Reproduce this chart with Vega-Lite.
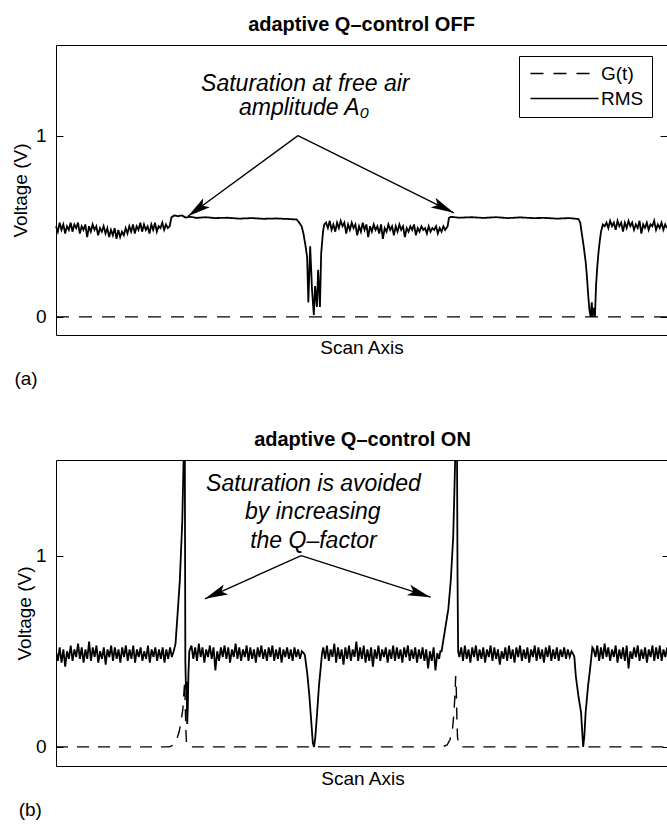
{
  "$schema": "https://vega.github.io/schema/vega-lite/v6.json",
  "background": "white",
  "padding": {"left": 10, "top": 14, "right": 0, "bottom": 5},
  "spacing": 40,
  "align": "none",
  "config": {
    "font": "Liberation Sans",
    "view": {"stroke": "black", "strokeWidth": 1},
    "axis": {"grid": false, "domain": false, "labelFont": "Liberation Sans", "titleFont": "Liberation Sans", "labelFontSize": 19, "titleFontSize": 19, "titleFontWeight": "normal", "labelColor": "black", "titleColor": "black", "tickColor": "black", "tickWidth": 1},
    "title": {"font": "Liberation Sans", "fontSize": 20, "fontWeight": "bold", "color": "black", "offset": 10},
    "text": {"font": "Liberation Sans", "color": "black"}
  },
  "datasets": {
    "topG": [{"x": 0, "v": 0}, {"x": 1000, "v": 0}],
    "topRMS": [
      {"x":0,"v":0.50},{"x":3,"v":0.47},{"x":6,"v":0.52},{"x":9,"v":0.48},{"x":12,"v":0.51},{"x":15,"v":0.46},{"x":18,"v":0.50},{"x":21,"v":0.48},{"x":24,"v":0.52},{"x":27,"v":0.47},{"x":30,"v":0.51},{"x":33,"v":0.49},{"x":36,"v":0.52},{"x":39,"v":0.46},{"x":42,"v":0.50},{"x":45,"v":0.48},{"x":48,"v":0.51},{"x":51,"v":0.44},{"x":54,"v":0.50},{"x":57,"v":0.47},{"x":60,"v":0.51},{"x":63,"v":0.48},{"x":66,"v":0.50},{"x":69,"v":0.45},{"x":72,"v":0.49},{"x":75,"v":0.47},{"x":78,"v":0.50},{"x":81,"v":0.46},{"x":84,"v":0.49},{"x":87,"v":0.44},{"x":90,"v":0.48},{"x":93,"v":0.45},{"x":96,"v":0.49},{"x":99,"v":0.43},{"x":102,"v":0.48},{"x":105,"v":0.44},{"x":108,"v":0.47},{"x":111,"v":0.45},{"x":114,"v":0.49},{"x":117,"v":0.46},{"x":120,"v":0.50},{"x":123,"v":0.47},{"x":126,"v":0.51},{"x":129,"v":0.46},{"x":132,"v":0.50},{"x":135,"v":0.48},{"x":138,"v":0.52},{"x":141,"v":0.47},{"x":144,"v":0.51},{"x":147,"v":0.48},{"x":150,"v":0.50},{"x":153,"v":0.46},{"x":156,"v":0.51},{"x":159,"v":0.48},{"x":162,"v":0.52},{"x":165,"v":0.47},{"x":168,"v":0.50},{"x":171,"v":0.49},{"x":174,"v":0.52},{"x":177,"v":0.48},{"x":180,"v":0.51},{"x":183,"v":0.49},{"x":186,"v":0.50},
      {"x":189,"v":0.55},{"x":194,"v":0.56},{"x":200,"v":0.555},{"x":206,"v":0.56},{"x":212,"v":0.548},{"x":220,"v":0.552},{"x":230,"v":0.546},{"x":245,"v":0.55},{"x":260,"v":0.545},{"x":280,"v":0.547},{"x":300,"v":0.542},{"x":320,"v":0.545},{"x":340,"v":0.541},{"x":360,"v":0.543},{"x":380,"v":0.54},{"x":394,"v":0.537},
      {"x":398,"v":0.52},{"x":402,"v":0.50},{"x":405,"v":0.46},{"x":408,"v":0.40},{"x":411,"v":0.33},{"x":413,"v":0.08},{"x":416,"v":0.39},{"x":419,"v":0.15},{"x":422,"v":0.01},{"x":424,"v":0.17},{"x":427,"v":0.055},{"x":429,"v":0.26},{"x":432,"v":0.055},{"x":434,"v":0.35},{"x":437,"v":0.47},{"x":439,"v":0.51},
      {"x":442,"v":0.52},{"x":445,"v":0.49},{"x":448,"v":0.53},{"x":451,"v":0.48},{"x":454,"v":0.51},{"x":457,"v":0.47},{"x":460,"v":0.52},{"x":463,"v":0.49},{"x":466,"v":0.53},{"x":469,"v":0.50},{"x":472,"v":0.52},{"x":475,"v":0.46},{"x":478,"v":0.51},{"x":481,"v":0.48},{"x":484,"v":0.52},{"x":487,"v":0.49},{"x":490,"v":0.51},{"x":493,"v":0.45},{"x":496,"v":0.50},{"x":499,"v":0.47},{"x":502,"v":0.52},{"x":505,"v":0.48},{"x":508,"v":0.51},{"x":511,"v":0.44},{"x":514,"v":0.50},{"x":517,"v":0.47},{"x":520,"v":0.51},{"x":523,"v":0.48},{"x":526,"v":0.50},{"x":529,"v":0.46},{"x":532,"v":0.51},{"x":535,"v":0.43},{"x":538,"v":0.49},{"x":541,"v":0.47},{"x":544,"v":0.51},{"x":547,"v":0.48},{"x":550,"v":0.50},{"x":553,"v":0.45},{"x":556,"v":0.50},{"x":559,"v":0.47},{"x":562,"v":0.51},{"x":565,"v":0.48},{"x":568,"v":0.50},{"x":571,"v":0.44},{"x":574,"v":0.49},{"x":577,"v":0.47},{"x":580,"v":0.50},{"x":583,"v":0.48},{"x":586,"v":0.51},{"x":589,"v":0.45},{"x":592,"v":0.49},{"x":595,"v":0.47},{"x":598,"v":0.50},{"x":601,"v":0.48},{"x":604,"v":0.49},{"x":607,"v":0.46},{"x":610,"v":0.50},{"x":613,"v":0.47},{"x":616,"v":0.49},{"x":619,"v":0.48},{"x":622,"v":0.50},{"x":625,"v":0.46},{"x":628,"v":0.49},{"x":631,"v":0.47},{"x":634,"v":0.50},{"x":637,"v":0.48},
      {"x":641,"v":0.50},{"x":643,"v":0.545},{"x":646,"v":0.552},{"x":660,"v":0.547},{"x":680,"v":0.55},{"x":700,"v":0.546},{"x":720,"v":0.55},{"x":740,"v":0.545},{"x":760,"v":0.549},{"x":780,"v":0.545},{"x":800,"v":0.546},{"x":820,"v":0.542},{"x":840,"v":0.545},{"x":855,"v":0.54},
      {"x":858,"v":0.52},{"x":861,"v":0.45},{"x":864,"v":0.38},{"x":867,"v":0.30},{"x":869,"v":0.22},{"x":871,"v":0.12},{"x":873,"v":0.04},{"x":875,"v":0},{"x":877,"v":0.08},{"x":878,"v":0},{"x":880,"v":0.05},{"x":882,"v":0},{"x":884,"v":0.18},{"x":886,"v":0.28},{"x":888,"v":0.36},{"x":890,"v":0.42},{"x":892,"v":0.47},{"x":895,"v":0.51},
      {"x":898,"v":0.50},{"x":901,"v":0.52},{"x":904,"v":0.49},{"x":907,"v":0.53},{"x":910,"v":0.50},{"x":913,"v":0.52},{"x":916,"v":0.48},{"x":919,"v":0.53},{"x":922,"v":0.50},{"x":925,"v":0.52},{"x":928,"v":0.47},{"x":931,"v":0.52},{"x":934,"v":0.49},{"x":937,"v":0.53},{"x":940,"v":0.50},{"x":943,"v":0.52},{"x":946,"v":0.48},{"x":949,"v":0.51},{"x":952,"v":0.49},{"x":955,"v":0.53},{"x":958,"v":0.46},{"x":961,"v":0.51},{"x":964,"v":0.49},{"x":967,"v":0.52},{"x":970,"v":0.48},{"x":973,"v":0.51},{"x":976,"v":0.50},{"x":979,"v":0.53},{"x":982,"v":0.48},{"x":985,"v":0.51},{"x":988,"v":0.49},{"x":991,"v":0.52},{"x":994,"v":0.48},{"x":997,"v":0.51},{"x":1000,"v":0.49}
    ],
    "botG": [
      {"x":0,"v":0},{"x":185,"v":0},{"x":192,"v":0.01},{"x":197,"v":0.04},{"x":201,"v":0.08},{"x":204,"v":0.13},{"x":207,"v":0.2},{"x":209,"v":0.3},{"x":210,"v":0.34},{"x":211,"v":0.2},{"x":212,"v":0.08},{"x":213,"v":0.01},{"x":216,"v":0},{"x":630,"v":0},{"x":638,"v":0.01},{"x":643,"v":0.04},{"x":647,"v":0.1},{"x":649,"v":0.17},{"x":651,"v":0.28},{"x":652,"v":0.37},{"x":653,"v":0.3},{"x":654,"v":0.15},{"x":655,"v":0.05},{"x":657,"v":0.01},{"x":660,"v":0},{"x":1000,"v":0}
    ],
    "botRMS": [
      {"x":0,"v":0.50},{"x":3,"v":0.45},{"x":6,"v":0.52},{"x":9,"v":0.44},{"x":12,"v":0.51},{"x":15,"v":0.42},{"x":18,"v":0.50},{"x":21,"v":0.46},{"x":24,"v":0.53},{"x":27,"v":0.45},{"x":30,"v":0.51},{"x":33,"v":0.47},{"x":36,"v":0.54},{"x":39,"v":0.46},{"x":42,"v":0.52},{"x":45,"v":0.44},{"x":48,"v":0.51},{"x":51,"v":0.46},{"x":54,"v":0.55},{"x":57,"v":0.45},{"x":60,"v":0.52},{"x":63,"v":0.47},{"x":66,"v":0.53},{"x":69,"v":0.44},{"x":72,"v":0.50},{"x":75,"v":0.46},{"x":78,"v":0.52},{"x":81,"v":0.43},{"x":84,"v":0.51},{"x":87,"v":0.47},{"x":90,"v":0.53},{"x":93,"v":0.45},{"x":96,"v":0.52},{"x":99,"v":0.46},{"x":102,"v":0.51},{"x":105,"v":0.44},{"x":108,"v":0.52},{"x":111,"v":0.47},{"x":114,"v":0.53},{"x":117,"v":0.45},{"x":120,"v":0.51},{"x":123,"v":0.46},{"x":126,"v":0.53},{"x":129,"v":0.44},{"x":132,"v":0.51},{"x":135,"v":0.47},{"x":138,"v":0.52},{"x":141,"v":0.45},{"x":144,"v":0.50},{"x":147,"v":0.46},{"x":150,"v":0.53},{"x":153,"v":0.44},{"x":156,"v":0.51},{"x":159,"v":0.47},{"x":162,"v":0.52},{"x":165,"v":0.45},{"x":168,"v":0.51},{"x":171,"v":0.46},{"x":174,"v":0.52},{"x":177,"v":0.44},{"x":180,"v":0.51},{"x":183,"v":0.46},{"x":186,"v":0.52},{"x":189,"v":0.47},
      {"x":192,"v":0.50},{"x":195,"v":0.54},{"x":198,"v":0.68},{"x":202,"v":0.87},{"x":206,"v":1.18},{"x":208,"v":1.48},{"x":209,"v":1.7},{"x":210,"v":1.7},{"x":211,"v":0.45},{"x":212,"v":0.30},{"x":213,"v":0.34},{"x":214,"v":0.12},{"x":215,"v":0.2},{"x":216,"v":0.38},{"x":217.5,"v":0.50},
      {"x":221,"v":0.53},{"x":224,"v":0.46},{"x":227,"v":0.52},{"x":230,"v":0.45},{"x":233,"v":0.54},{"x":236,"v":0.47},{"x":239,"v":0.52},{"x":242,"v":0.44},{"x":245,"v":0.51},{"x":248,"v":0.47},{"x":251,"v":0.53},{"x":254,"v":0.46},{"x":257,"v":0.52},{"x":260,"v":0.40},{"x":263,"v":0.50},{"x":266,"v":0.45},{"x":269,"v":0.52},{"x":272,"v":0.47},{"x":275,"v":0.53},{"x":278,"v":0.46},{"x":281,"v":0.52},{"x":284,"v":0.44},{"x":287,"v":0.51},{"x":290,"v":0.47},{"x":293,"v":0.54},{"x":296,"v":0.46},{"x":299,"v":0.52},{"x":302,"v":0.45},{"x":305,"v":0.51},{"x":308,"v":0.47},{"x":311,"v":0.53},{"x":314,"v":0.45},{"x":317,"v":0.52},{"x":320,"v":0.46},{"x":323,"v":0.51},{"x":326,"v":0.44},{"x":329,"v":0.52},{"x":332,"v":0.47},{"x":335,"v":0.53},{"x":338,"v":0.46},{"x":341,"v":0.51},{"x":344,"v":0.45},{"x":347,"v":0.52},{"x":350,"v":0.47},{"x":353,"v":0.53},{"x":356,"v":0.45},{"x":359,"v":0.51},{"x":362,"v":0.46},{"x":365,"v":0.52},{"x":368,"v":0.44},{"x":371,"v":0.51},{"x":374,"v":0.47},{"x":377,"v":0.52},{"x":380,"v":0.46},{"x":383,"v":0.51},{"x":386,"v":0.45},{"x":389,"v":0.52},{"x":392,"v":0.47},{"x":395,"v":0.51},{"x":398,"v":0.46},{"x":401,"v":0.50},{"x":404,"v":0.49},
      {"x":406,"v":0.48},{"x":410,"v":0.38},{"x":413,"v":0.28},{"x":416,"v":0.15},{"x":419,"v":0.02},{"x":421,"v":0},{"x":423,"v":0.05},{"x":426,"v":0.18},{"x":429,"v":0.32},{"x":432,"v":0.42},{"x":434,"v":0.49},
      {"x":436,"v":0.52},{"x":439,"v":0.46},{"x":442,"v":0.53},{"x":445,"v":0.45},{"x":448,"v":0.51},{"x":451,"v":0.47},{"x":454,"v":0.54},{"x":457,"v":0.44},{"x":460,"v":0.52},{"x":463,"v":0.46},{"x":466,"v":0.51},{"x":469,"v":0.43},{"x":472,"v":0.52},{"x":475,"v":0.46},{"x":478,"v":0.53},{"x":481,"v":0.45},{"x":484,"v":0.51},{"x":487,"v":0.47},{"x":490,"v":0.55},{"x":493,"v":0.45},{"x":496,"v":0.52},{"x":499,"v":0.46},{"x":502,"v":0.53},{"x":505,"v":0.44},{"x":508,"v":0.51},{"x":511,"v":0.45},{"x":514,"v":0.52},{"x":517,"v":0.42},{"x":520,"v":0.51},{"x":523,"v":0.46},{"x":526,"v":0.53},{"x":529,"v":0.45},{"x":532,"v":0.51},{"x":535,"v":0.47},{"x":538,"v":0.52},{"x":541,"v":0.44},{"x":544,"v":0.51},{"x":547,"v":0.46},{"x":550,"v":0.53},{"x":553,"v":0.45},{"x":556,"v":0.52},{"x":559,"v":0.46},{"x":562,"v":0.51},{"x":565,"v":0.44},{"x":568,"v":0.52},{"x":571,"v":0.47},{"x":574,"v":0.53},{"x":577,"v":0.45},{"x":580,"v":0.51},{"x":583,"v":0.46},{"x":586,"v":0.52},{"x":589,"v":0.44},{"x":592,"v":0.51},{"x":595,"v":0.46},{"x":598,"v":0.52},{"x":601,"v":0.45},{"x":604,"v":0.51},{"x":607,"v":0.41},{"x":610,"v":0.50},{"x":613,"v":0.45},{"x":616,"v":0.52},{"x":619,"v":0.40},{"x":622,"v":0.49},{"x":625,"v":0.46},{"x":627,"v":0.50},
      {"x":629,"v":0.50},{"x":634,"v":0.60},{"x":640,"v":0.72},{"x":644,"v":0.87},{"x":648,"v":1.1},{"x":650,"v":1.35},{"x":651,"v":1.48},{"x":652,"v":1.7},{"x":654,"v":1.7},{"x":655,"v":0.9},{"x":656,"v":0.5},
      {"x":658,"v":0.47},{"x":661,"v":0.52},{"x":664,"v":0.45},{"x":667,"v":0.53},{"x":670,"v":0.46},{"x":673,"v":0.51},{"x":676,"v":0.44},{"x":679,"v":0.52},{"x":682,"v":0.47},{"x":685,"v":0.53},{"x":688,"v":0.45},{"x":691,"v":0.51},{"x":694,"v":0.46},{"x":697,"v":0.52},{"x":700,"v":0.44},{"x":703,"v":0.51},{"x":706,"v":0.47},{"x":709,"v":0.53},{"x":712,"v":0.45},{"x":715,"v":0.52},{"x":718,"v":0.46},{"x":721,"v":0.51},{"x":724,"v":0.43},{"x":727,"v":0.50},{"x":730,"v":0.46},{"x":733,"v":0.52},{"x":736,"v":0.45},{"x":739,"v":0.53},{"x":742,"v":0.46},{"x":745,"v":0.51},{"x":748,"v":0.44},{"x":751,"v":0.52},{"x":754,"v":0.47},{"x":757,"v":0.53},{"x":760,"v":0.45},{"x":763,"v":0.51},{"x":766,"v":0.46},{"x":769,"v":0.52},{"x":772,"v":0.44},{"x":775,"v":0.51},{"x":778,"v":0.47},{"x":781,"v":0.53},{"x":784,"v":0.45},{"x":787,"v":0.52},{"x":790,"v":0.46},{"x":793,"v":0.51},{"x":796,"v":0.44},{"x":799,"v":0.52},{"x":802,"v":0.47},{"x":805,"v":0.53},{"x":808,"v":0.45},{"x":811,"v":0.51},{"x":814,"v":0.46},{"x":817,"v":0.52},{"x":820,"v":0.45},{"x":823,"v":0.51},{"x":826,"v":0.47},{"x":829,"v":0.52},{"x":832,"v":0.46},{"x":835,"v":0.51},{"x":838,"v":0.47},{"x":841,"v":0.50},{"x":843,"v":0.49},
      {"x":845.6,"v":0.47},{"x":848,"v":0.37},{"x":852,"v":0.27},{"x":856.5,"v":0.18},{"x":860,"v":0},{"x":862,"v":0.06},{"x":864,"v":0.18},{"x":868,"v":0.32},{"x":871,"v":0.40},{"x":875,"v":0.52},
      {"x":877,"v":0.51},{"x":880,"v":0.47},{"x":883,"v":0.53},{"x":886,"v":0.45},{"x":889,"v":0.52},{"x":892,"v":0.46},{"x":895,"v":0.54},{"x":898,"v":0.47},{"x":901,"v":0.52},{"x":904,"v":0.45},{"x":907,"v":0.51},{"x":910,"v":0.47},{"x":913,"v":0.53},{"x":916,"v":0.44},{"x":919,"v":0.51},{"x":922,"v":0.46},{"x":925,"v":0.52},{"x":928,"v":0.45},{"x":931,"v":0.53},{"x":934,"v":0.41},{"x":937,"v":0.50},{"x":940,"v":0.46},{"x":943,"v":0.52},{"x":946,"v":0.47},{"x":949,"v":0.53},{"x":952,"v":0.45},{"x":955,"v":0.51},{"x":958,"v":0.46},{"x":961,"v":0.52},{"x":964,"v":0.44},{"x":967,"v":0.51},{"x":970,"v":0.47},{"x":973,"v":0.53},{"x":976,"v":0.45},{"x":979,"v":0.52},{"x":982,"v":0.46},{"x":985,"v":0.53},{"x":988,"v":0.45},{"x":991,"v":0.51},{"x":994,"v":0.47},{"x":997,"v":0.52},{"x":1000,"v":0.48}
    ],
    "topText": [{"x": 408, "v": 1.285, "t": "Saturation at free air"}, {"x": 406, "v": 1.152, "t": "amplitude A₀"}],
    "botText": [{"x": 420, "v": 1.374, "t": "Saturation is avoided"}, {"x": 419, "v": 1.226, "t": "by increasing"}, {"x": 420, "v": 1.078, "t": "the Q–factor"}],
    "topArrows": [{"x": 396, "v": 1.0, "x2": 216, "v2": 0.555}, {"x": 396, "v": 1.0, "x2": 651, "v2": 0.574}],
    "botArrows": [{"x": 400, "v": 1.0, "x2": 243, "v2": 0.774}, {"x": 400, "v": 1.0, "x2": 611, "v2": 0.783}]
  },
  "vconcat": [
    {
      "title": {"text": "adaptive Q–control OFF"},
      "width": 611,
      "height": 290,
      "encoding": {
        "x": {"field": "x", "type": "quantitative", "scale": {"domain": [0, 1000], "nice": false, "zero": false}, "axis": {"labels": false, "ticks": false, "domain": false, "grid": false, "title": "Scan Axis", "titlePadding": 3}},
        "y": {"field": "v", "type": "quantitative", "scale": {"domain": [-0.1, 1.5], "nice": false, "zero": false}, "axis": null}
      },
      "layer": [
        {
          "data": {"name": "topG"},
          "mark": {"type": "line", "stroke": "black", "strokeWidth": 1.4},
          "encoding": {
            "y": {"field": "v", "type": "quantitative", "axis": {"orient": "left", "values": [0, 1], "format": "d", "tickSize": -7, "labelPadding": 17, "title": "Voltage (V)", "titlePadding": 5}},
            "strokeDash": {"datum": "G(t)", "type": "nominal", "scale": {"domain": ["G(t)", "RMS"], "range": [[13, 10], [1, 0]]},
              "legend": {"title": null, "orient": "none", "legendX": 463, "legendY": 11, "strokeColor": "black", "fillColor": "white", "padding": 8, "symbolType": "M-5.67,0L5.67,0", "symbolSize": 144, "symbolOffset": 28, "symbolStrokeWidth": 1.3, "symbolStrokeColor": "black", "labelFontSize": 19, "labelFont": "Liberation Sans", "labelColor": "black", "labelOffset": 27, "rowPadding": 5, "cornerRadius": 0}}
          }
        },
        {
          "data": {"name": "topRMS"},
          "mark": {"type": "line", "stroke": "black", "strokeWidth": 1.8},
          "encoding": {
            "y": {"field": "v", "type": "quantitative", "axis": {"orient": "right", "values": [0, 1], "labels": false, "tickSize": -7, "title": null}},
            "strokeDash": {"datum": "RMS", "type": "nominal"}
          }
        },
        {
          "data": {"name": "topArrows"},
          "mark": {"type": "rule", "color": "black", "strokeWidth": 1.3},
          "encoding": {"x2": {"field": "x2"}, "y2": {"field": "v2"}}
        },
        {
          "data": {"values": [{"x": 216, "v": 0.555}]},
          "mark": {"type": "point", "shape": "M0,0L-1,-0.24L-0.78,0L-1,0.24Z", "filled": true, "color": "black", "opacity": 1, "size": 2116, "angle": 143.8, "strokeWidth": 0}
        },
        {
          "data": {"values": [{"x": 651, "v": 0.574}]},
          "mark": {"type": "point", "shape": "M0,0L-1,-0.24L-0.78,0L-1,0.24Z", "filled": true, "color": "black", "opacity": 1, "size": 2116, "angle": 26.3, "strokeWidth": 0}
        },
        {
          "data": {"name": "topText"},
          "mark": {"type": "text", "fontStyle": "italic", "fontSize": 23, "align": "center", "baseline": "middle"},
          "encoding": {"text": {"field": "t"}}
        },
        {
          "data": {"values": [{"x": -49, "v": -0.34, "t": "(a)"}]},
          "mark": {"type": "text", "fontSize": 19, "align": "center", "baseline": "middle"},
          "encoding": {"text": {"field": "t"}}
        }
      ],
      "resolve": {"axis": {"y": "independent"}}
    },
    {
      "title": {"text": "adaptive Q–control ON"},
      "width": 613,
      "height": 306,
      "encoding": {
        "x": {"field": "x", "type": "quantitative", "scale": {"domain": [0, 1000], "nice": false, "zero": false}, "axis": {"labels": false, "ticks": false, "domain": false, "grid": false, "title": "Scan Axis", "titlePadding": 3}},
        "y": {"field": "v", "type": "quantitative", "scale": {"domain": [-0.1, 1.5], "nice": false, "zero": false}, "axis": null}
      },
      "layer": [
        {
          "data": {"name": "botG"},
          "mark": {"type": "line", "stroke": "black", "strokeWidth": 1.4, "strokeDash": [12, 9]},
          "encoding": {
            "y": {"field": "v", "type": "quantitative", "axis": {"orient": "left", "values": [0, 1], "format": "d", "tickSize": -7, "labelPadding": 17, "title": "Voltage (V)", "titlePadding": 1}}
          }
        },
        {
          "data": {"name": "botRMS"},
          "mark": {"type": "line", "stroke": "black", "strokeWidth": 1.8, "clip": true},
          "encoding": {
            "y": {"field": "v", "type": "quantitative", "axis": {"orient": "right", "values": [0, 1], "labels": false, "tickSize": -7, "title": null}}
          }
        },
        {
          "data": {"name": "botArrows"},
          "mark": {"type": "rule", "color": "black", "strokeWidth": 1.3},
          "encoding": {"x2": {"field": "x2"}, "y2": {"field": "v2"}}
        },
        {
          "data": {"values": [{"x": 243, "v": 0.774}]},
          "mark": {"type": "point", "shape": "M0,0L-1,-0.24L-0.78,0L-1,0.24Z", "filled": true, "color": "black", "opacity": 1, "size": 2116, "angle": 155.8, "strokeWidth": 0}
        },
        {
          "data": {"values": [{"x": 611, "v": 0.783}]},
          "mark": {"type": "point", "shape": "M0,0L-1,-0.24L-0.78,0L-1,0.24Z", "filled": true, "color": "black", "opacity": 1, "size": 2116, "angle": 17.8, "strokeWidth": 0}
        },
        {
          "data": {"name": "botText"},
          "mark": {"type": "text", "fontStyle": "italic", "fontSize": 23, "align": "center", "baseline": "middle"},
          "encoding": {"text": {"field": "t"}}
        },
        {
          "data": {"values": [{"x": -42, "v": -0.33, "t": "(b)"}]},
          "mark": {"type": "text", "fontSize": 19, "align": "center", "baseline": "middle"},
          "encoding": {"text": {"field": "t"}}
        }
      ],
      "resolve": {"axis": {"y": "independent"}}
    }
  ]
}
